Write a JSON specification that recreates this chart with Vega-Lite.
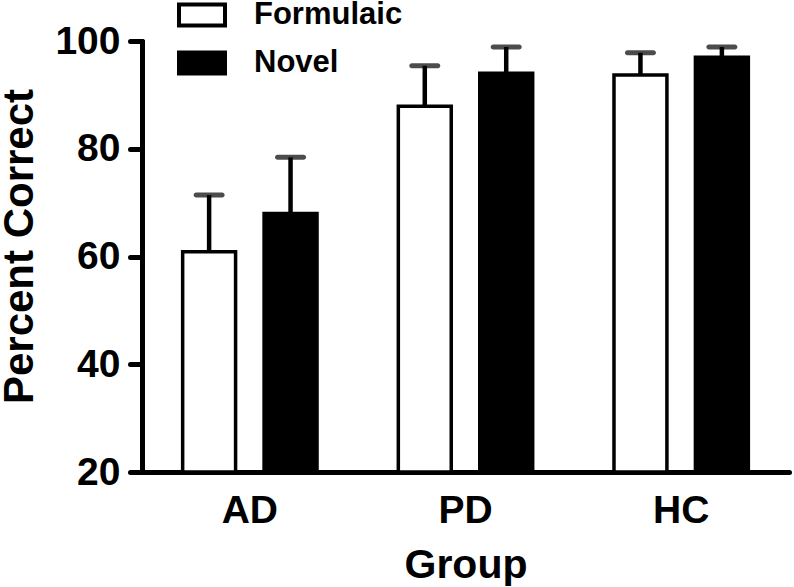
{
  "$schema": "https://vega.github.io/schema/vega-lite/v6.json",
  "width": 647,
  "height": 431,
  "autosize": {"type": "none"},
  "padding": {"left": 142, "top": 41, "right": 5, "bottom": 115},
  "background": "white",
  "config": {
    "view": {"stroke": null},
    "font": "Liberation Sans",
    "axis": {"grid": false, "domainColor": "black", "tickColor": "black", "labelColor": "black", "titleColor": "black", "labelFont": "Liberation Sans", "titleFont": "Liberation Sans", "labelFontWeight": "bold", "titleFontWeight": "bold", "domainWidth": 5, "domainCap": "round", "tickWidth": 5, "tickCap": "round"},
    "legend": {"labelFont": "Liberation Sans", "labelFontWeight": "bold", "labelColor": "black"}
  },
  "data": {
    "values": [
      {"group": "AD", "condition": "Formulaic", "mean": 60.9, "upper": 71.4},
      {"group": "AD", "condition": "Novel", "mean": 68.0, "upper": 78.4},
      {"group": "PD", "condition": "Formulaic", "mean": 87.9, "upper": 95.4},
      {"group": "PD", "condition": "Novel", "mean": 94.0, "upper": 98.9},
      {"group": "HC", "condition": "Formulaic", "mean": 93.7, "upper": 97.8},
      {"group": "HC", "condition": "Novel", "mean": 97.0, "upper": 98.9}
    ]
  },
  "encoding": {
    "x": {
      "field": "group", "type": "nominal", "sort": ["AD", "PD", "HC"],
      "scale": {"paddingInner": 0.377, "paddingOuter": 0.1885},
      "axis": {"title": "Group", "labelAngle": 0, "ticks": false, "tickSize": 0, "labelFontSize": 39, "labelPadding": 19, "titleFontSize": 41, "titleBaseline": "alphabetic", "titleY": 105}
    },
    "xOffset": {"field": "condition", "type": "nominal", "sort": ["Formulaic", "Novel"], "scale": {"paddingInner": 0.35, "paddingOuter": 0}}
  },
  "layer": [
    {
      "mark": {"type": "bar", "stroke": "black", "strokeWidth": 3.5},
      "encoding": {
        "y": {
          "field": "mean", "type": "quantitative",
          "scale": {"domain": [20, 100], "zero": false, "nice": false},
          "axis": {"title": "Percent Correct", "values": [20, 40, 60, 80, 100], "labelFontSize": 39, "tickSize": 12, "labelPadding": 10, "titleFontSize": 42, "titleAngle": 270, "titleBaseline": "alphabetic", "titleAlign": "center", "titleX": -110, "titleY": 205}
        },
        "y2": {"datum": 20},
        "fill": {
          "field": "condition", "type": "nominal",
          "scale": {"domain": ["Formulaic", "Novel"], "range": ["white", "black"]},
          "legend": {"title": null, "orient": "none", "legendX": 35, "legendY": -51, "padding": 0, "symbolType": "M-1,-0.46H1V0.46H-1Z", "symbolSize": 2116, "symbolStrokeColor": "black", "symbolStrokeWidth": 4, "labelFontSize": 31, "labelOffset": 27, "rowPadding": 4, "labelBaseline": "middle"}
        }
      }
    },
    {
      "mark": {"type": "rule", "color": "black", "strokeWidth": 4.5},
      "encoding": {
        "y": {"field": "mean", "type": "quantitative"},
        "y2": {"field": "upper"}
      }
    },
    {
      "mark": {"type": "tick", "color": "black", "thickness": 5, "size": 31, "cornerRadius": 2.5, "orient": "horizontal"},
      "encoding": {
        "y": {"field": "upper", "type": "quantitative"}
      }
    }
  ]
}
